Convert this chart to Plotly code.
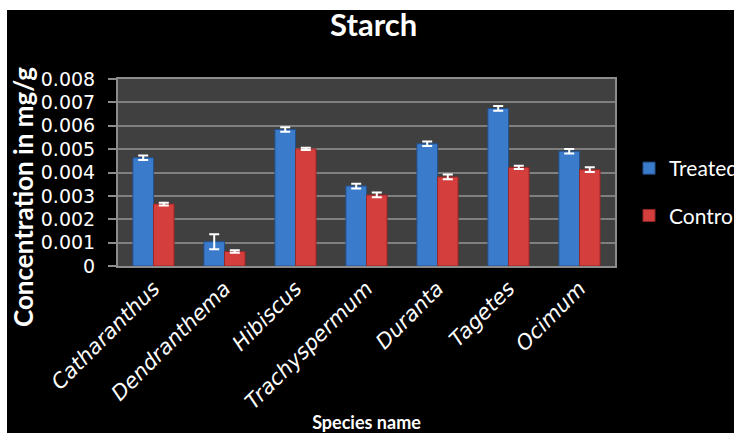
import plotly.graph_objects as go

species = ["Catharanthus", "Dendranthema", "Hibiscus", "Trachyspermum",
           "Duranta", "Tagetes", "Ocimum"]
treated = [0.00463, 0.00104, 0.00584, 0.00342, 0.00523, 0.00674, 0.00491]
treated_err = [0.0001, 0.00032, 0.0001, 0.0001, 0.0001, 0.0001, 0.0001]
control = [0.00265, 0.00062, 0.00501, 0.00304, 0.00381, 0.00422, 0.00412]
control_err = [0.00006, 0.00005, 0.00005, 0.0001, 0.0001, 0.00007, 0.0001]
y_tick_vals = [0, 0.001, 0.002, 0.003, 0.004, 0.005, 0.006, 0.007, 0.008]
y_tick_text = ["0", "0.001", "0.002", "0.003", "0.004", "0.005", "0.006", "0.007", "0.008"]
y_title = "Concentration in mg/g"
x_title = "Species name"

W, H = 734, 433
ML, MR, MT, MB = 118, 119, 79, 167
PW, PH = W - ML - MR, H - MT - MB

FONT = "Lato, 'Open Sans', sans-serif"
TICKFONT = "'DejaVu Sans', sans-serif"

fig = go.Figure()
fig.add_trace(go.Bar(
    x=species, y=treated, name="Treated", legendgroup="t",
    marker=dict(color="#3b7bcc", line=dict(color="#24528f", width=1)),
    error_y=dict(type="data", array=treated_err, color="white", thickness=2, width=5),
))
fig.add_trace(go.Bar(
    x=species, y=control, name="Control", legendgroup="c",
    marker=dict(color="#d43f3e", line=dict(color="#922827", width=1)),
    error_y=dict(type="data", array=control_err, color="white", thickness=2, width=5),
))

def px_x(p):
    return (p - ML) / PW

def px_y(p):
    return (H - MB - p) / PH

fig.update_layout(
    width=W, height=H,
    margin=dict(l=ML, r=MR, t=MT, b=MB, autoexpand=False),
    paper_bgcolor="black",
    plot_bgcolor="#404040",
    barmode="group", bargap=0.42, bargroupgap=0,
    title=dict(text="<b>Starch</b>", x=px_x(371), xanchor="center",
               y=1 - 25 / H, yanchor="middle", yref="container",
               font=dict(family=FONT, size=31, color="white")),
    showlegend=True,
    legend=dict(x=px_x(629), xanchor="left", y=px_y(148), yanchor="top",
                font=dict(family=FONT, size=21, color="white"),
                bgcolor="rgba(0,0,0,0)", traceorder="grouped", tracegroupgap=17),
    xaxis=dict(
        title=dict(text="<b>" + x_title + "</b>", font=dict(family=FONT, size=18, color="white"), standoff=22),
        tickangle=-45, tickfont=dict(family=TICKFONT, size=21, color="white", style="italic"),
        showline=True, linecolor="#8c8c8c", linewidth=2, mirror=True,
        ticks="", automargin=False,
    ),
    yaxis=dict(
        range=[0, 0.008], tickvals=y_tick_vals, ticktext=y_tick_text,
        tickfont=dict(family=TICKFONT, size=19, color="white"), ticklabelstandoff=9,
        showgrid=True, gridcolor="#7f7f7f", gridwidth=2,
        showline=True, linecolor="#8c8c8c", linewidth=2, mirror=True,
        ticks="outside", ticklen=8, tickcolor="#8c8c8c", tickwidth=2,
        automargin=False, zeroline=False,
    ),
    annotations=[
        dict(text="<b>" + y_title + "</b>", textangle=-90, showarrow=False,
             xref="paper", yref="paper", x=px_x(23), y=px_y(197),
             xanchor="center", yanchor="middle",
             font=dict(family=FONT, size=26, color="white")),
    ],
    shapes=[
        dict(type="rect", xref="paper", yref="paper", x0=px_x(0), x1=px_x(W),
             y0=px_y(10), y1=px_y(0), fillcolor="white", line=dict(width=0), layer="below"),
        dict(type="rect", xref="paper", yref="paper", x0=px_x(0), x1=px_x(7),
             y0=px_y(H), y1=px_y(0), fillcolor="white", line=dict(width=0), layer="below"),
    ],
)

fig.write_html("out.html", config={"displayModeBar": False},
               post_script="document.body.style.margin='0';")
